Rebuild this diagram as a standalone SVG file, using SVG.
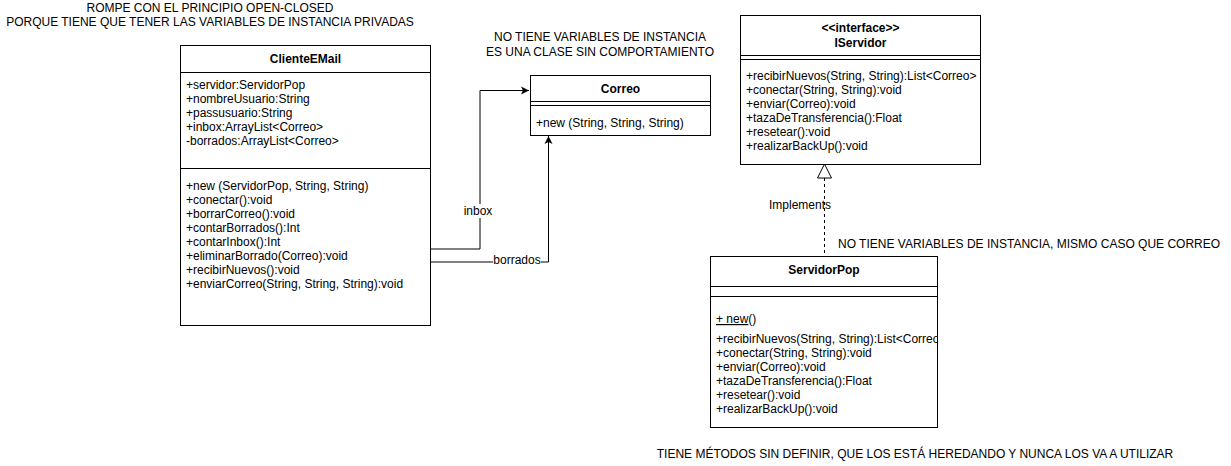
<svg xmlns="http://www.w3.org/2000/svg" width="1231" height="466" viewBox="0 0 1231 466">
<style>
text{font-family:"Liberation Sans",Arial,sans-serif;fill:#000}
.t{font-size:12px}
.b{font-size:12px;font-weight:bold}
.n{font-size:12px}
.box{fill:#fff;stroke:#000;stroke-width:1}
.ln{fill:none;stroke:#000;stroke-width:1}
</style>
<defs>
<marker id="arr" markerWidth="10" markerHeight="10" refX="9" refY="5" orient="auto" markerUnits="userSpaceOnUse">
<path d="M1,1 L9,5 L1,9 L3,5 Z" fill="#000"/>
</marker>
<clipPath id="spclip"><rect x="710" y="256" width="227" height="171"/></clipPath>
</defs>
<g id="notes">
<text class="n" x="210" y="12" text-anchor="middle">ROMPE CON EL PRINCIPIO OPEN-CLOSED</text>
<text class="n" x="210" y="26" text-anchor="middle">PORQUE TIENE QUE TENER LAS VARIABLES DE INSTANCIA PRIVADAS</text>
<text class="n" x="600" y="41" text-anchor="middle">NO TIENE VARIABLES DE INSTANCIA</text>
<text class="n" x="600" y="56" text-anchor="middle">ES UNA CLASE SIN COMPORTAMIENTO</text>
<text class="n" x="838" y="248">NO TIENE VARIABLES DE INSTANCIA, MISMO CASO QUE CORREO</text>
<text class="n" x="915" y="458" text-anchor="middle">TIENE MÉTODOS SIN DEFINIR, QUE LOS ESTÁ HEREDANDO Y NUNCA LOS VA A UTILIZAR</text>
</g>
<g id="connectors">
<polyline class="ln" points="430,249 480,249 480,90.5 529,90.5" marker-end="url(#arr)"/>
<polyline class="ln" points="430,262 548.5,262 548.5,136" marker-end="url(#arr)"/>
<rect x="462" y="204" width="33" height="14" fill="#fff"/>
<text class="t" x="478" y="215" text-anchor="middle">inbox</text>
<rect x="493" y="255" width="48" height="13" fill="#fff"/>
<text class="t" x="517" y="264" text-anchor="middle">borrados</text>
<line class="ln" x1="824.5" y1="178" x2="824.5" y2="256" stroke-dasharray="3,3"/>
<path d="M824.5,164 L817.5,178 L831.5,178 Z" fill="#fff" stroke="#000"/>
<text class="t" x="800" y="209" text-anchor="middle">Implements</text>
</g>
<g id="ClienteEMail">
<rect class="box" x="180.5" y="45.5" width="250" height="280"/>
<line class="ln" x1="180.5" y1="72.5" x2="430.5" y2="72.5"/>
<line class="ln" x1="180.5" y1="168.5" x2="430.5" y2="168.5"/>
<text class="b" x="305.5" y="63" text-anchor="middle">ClienteEMail</text>
<text class="t" x="186" y="89">+servidor:ServidorPop</text>
<text class="t" x="186" y="103">+nombreUsuario:String</text>
<text class="t" x="186" y="117">+passusuario:String</text>
<text class="t" x="186" y="131">+inbox:ArrayList&lt;Correo&gt;</text>
<text class="t" x="186" y="145">-borrados:ArrayList&lt;Correo&gt;</text>
<text class="t" x="186" y="190">+new (ServidorPop, String, String)</text>
<text class="t" x="186" y="204">+conectar():void</text>
<text class="t" x="186" y="218">+borrarCorreo():void</text>
<text class="t" x="186" y="232">+contarBorrados():Int</text>
<text class="t" x="186" y="246">+contarInbox():Int</text>
<text class="t" x="186" y="260">+eliminarBorrado(Correo):void</text>
<text class="t" x="186" y="274">+recibirNuevos():void</text>
<text class="t" x="186" y="288">+enviarCorreo(String, String, String):void</text>
</g>
<g id="Correo">
<rect class="box" x="530.5" y="75.5" width="180" height="60"/>
<line class="ln" x1="530.5" y1="101.5" x2="710.5" y2="101.5"/>
<line class="ln" x1="530.5" y1="105.5" x2="710.5" y2="105.5"/>
<text class="b" x="620.5" y="93" text-anchor="middle">Correo</text>
<text class="t" x="536" y="127">+new (String, String, String)</text>
</g>
<g id="IServidor">
<rect class="box" x="740.5" y="15.5" width="240" height="149"/>
<line class="ln" x1="740.5" y1="55.5" x2="980.5" y2="55.5"/>
<line class="ln" x1="740.5" y1="59.5" x2="980.5" y2="59.5"/>
<text class="b" x="860.5" y="32" text-anchor="middle">&lt;&lt;interface&gt;&gt;</text>
<text class="b" x="860.5" y="47" text-anchor="middle">IServidor</text>
<text class="t" x="746" y="80">+recibirNuevos(String, String):List&lt;Correo&gt;</text>
<text class="t" x="746" y="94">+conectar(String, String):void</text>
<text class="t" x="746" y="108">+enviar(Correo):void</text>
<text class="t" x="746" y="122">+tazaDeTransferencia():Float</text>
<text class="t" x="746" y="136">+resetear():void</text>
<text class="t" x="746" y="150">+realizarBackUp():void</text>
</g>
<g id="ServidorPop">
<rect class="box" x="710.5" y="256.5" width="227" height="171"/>
<line class="ln" x1="710.5" y1="286.5" x2="937.5" y2="286.5"/>
<line class="ln" x1="710.5" y1="296.5" x2="937.5" y2="296.5"/>
<text class="b" x="824" y="274" text-anchor="middle">ServidorPop</text>
<g clip-path="url(#spclip)">
<text class="t" x="716" y="323"><tspan text-decoration="underline">+ new</tspan>()</text>
<text class="t" x="716" y="343">+recibirNuevos(String, String):List&lt;Correo&gt;</text>
<text class="t" x="716" y="357">+conectar(String, String):void</text>
<text class="t" x="716" y="371">+enviar(Correo):void</text>
<text class="t" x="716" y="385">+tazaDeTransferencia():Float</text>
<text class="t" x="716" y="399">+resetear():void</text>
<text class="t" x="716" y="413">+realizarBackUp():void</text>
</g>
</g>
</svg>
